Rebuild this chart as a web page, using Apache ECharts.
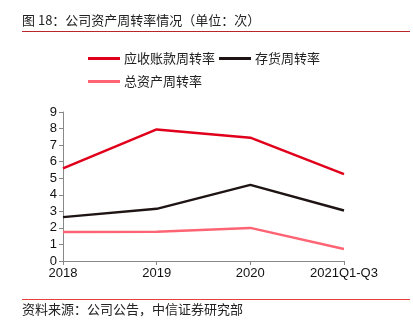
<!DOCTYPE html>
<html>
<head>
<meta charset="utf-8">
<script src="https://cdn.jsdelivr.net/npm/echarts@6/dist/echarts.min.js"></script>
<style>
  html, body { margin: 0; padding: 0; background: #fff; }
  #chart { width: 413px; height: 330px; }
</style>
</head>
<body>
<div id="chart"></div>
<script>
// Turnover ratios (times per period)
const categories = ['2018', '2019', '2020', '2021Q1-Q3'];
const receivablesTurnover = [5.6, 7.95, 7.45, 5.25];
const inventoryTurnover = [2.65, 3.15, 4.6, 3.05];
const totalAssetTurnover = [1.75, 1.77, 2.0, 0.73];
const yTicks = [0, 1, 2, 3, 4, 5, 6, 7, 8, 9];

const seriesNames = ['应收账款周转率', '存货周转率', '总资产周转率'];
const seriesColors = ['#e0001b', '#1e1414', '#ff6474'];
const seriesData = [receivablesTurnover, inventoryTurnover, totalAssetTurnover];

const font = '"Liberation Sans", "Noto Sans CJK SC", sans-serif';
const cjkFont = '"Noto Sans CJK SC", sans-serif';

const chart = echarts.init(document.getElementById('chart'), null, { renderer: 'canvas' });

const legendCommon = {
  orient: 'horizontal',
  icon: 'rect',
  itemWidth: 32,
  itemHeight: 3,
  itemGap: 4,
  textStyle: { fontFamily: cjkFont, fontSize: 13, color: '#222', padding: [0, 0, 0, -1] },
  padding: 0
};

chart.setOption({
  animation: false,
  backgroundColor: '#fff',
  graphic: [
    {
      type: 'text', left: 22, top: 14,
      style: { text: '图 18：公司资产周转率情况（单位：次）', font: '13px ' + cjkFont, fill: '#222' }
    },
    {
      type: 'line', shape: { x1: 22, y1: 31.5, x2: 410, y2: 31.5 },
      style: { stroke: '#b8282a', lineWidth: 1 }
    },
    {
      type: 'line', shape: { x1: 22, y1: 299.5, x2: 410, y2: 299.5 },
      style: { stroke: '#e8403c', lineWidth: 1 }
    },
    {
      type: 'text', left: 22, top: 303,
      style: { text: '资料来源：公司公告，中信证券研究部', font: '13px ' + cjkFont, fill: '#222' }
    }
  ],
  legend: [
    Object.assign({}, legendCommon, { left: 88, top: 52, data: [seriesNames[0], seriesNames[1]] }),
    Object.assign({}, legendCommon, { left: 88, top: 75, data: [seriesNames[2]] })
  ],
  grid: { left: 63, right: 69, top: 112, bottom: 69, containLabel: false },
  xAxis: {
    type: 'category',
    data: categories,
    boundaryGap: false,
    axisLine: { lineStyle: { color: '#888', width: 1 } },
    axisTick: { show: true, length: 4, lineStyle: { color: '#888' } },
    axisLabel: { fontFamily: font, fontSize: 13, color: '#111', margin: 6 }
  },
  yAxis: {
    type: 'value',
    min: yTicks[0],
    max: yTicks[yTicks.length - 1],
    interval: 1,
    axisLine: { show: true, lineStyle: { color: '#888', width: 1 } },
    axisTick: { show: true, length: 4, lineStyle: { color: '#888' } },
    splitLine: { show: false },
    axisLabel: { fontFamily: font, fontSize: 13, color: '#111', margin: 6 }
  },
  series: seriesNames.map((name, i) => ({
    name: name,
    type: 'line',
    data: seriesData[i],
    symbol: 'none',
    lineStyle: { color: seriesColors[i], width: 2.5 },
    itemStyle: { color: seriesColors[i] },
    z: 3 - i
  }))
});
</script>
</body>
</html>
